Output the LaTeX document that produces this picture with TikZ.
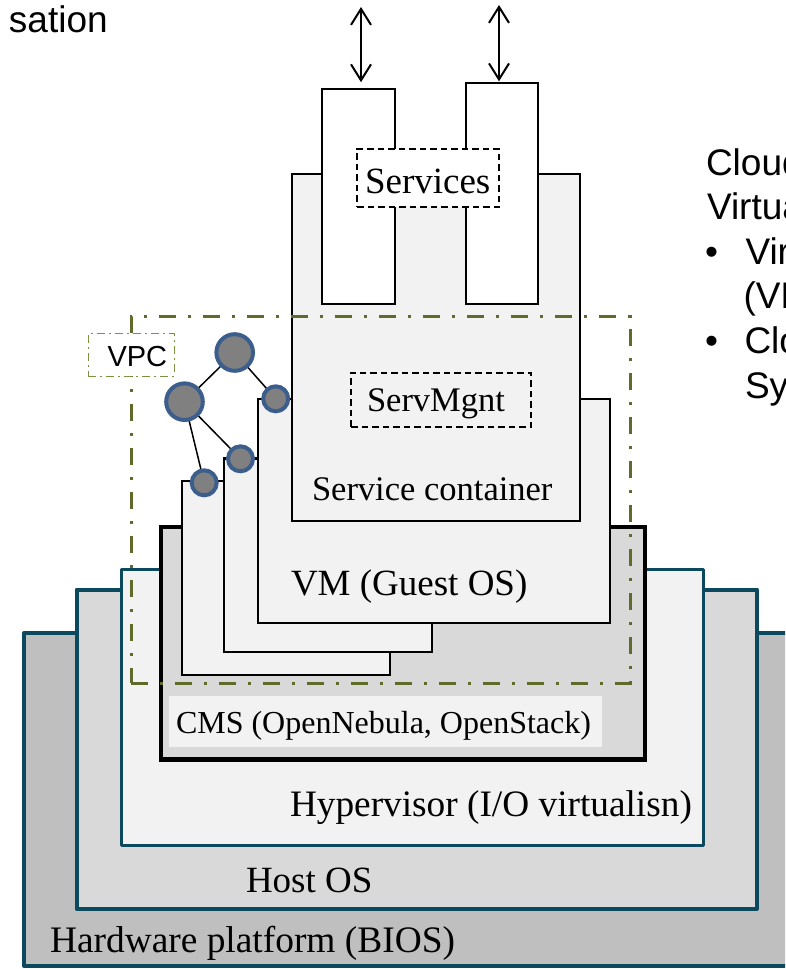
\documentclass[tikz,border=0pt]{standalone}
\usepackage{fontspec}
\setmainfont{Liberation Serif}
\newfontfamily\arialfont{Liberation Sans}
\usetikzlibrary{arrows.meta}
\definecolor{tealb}{HTML}{0B4A5E}
\definecolor{olivel}{HTML}{5F6B2B}
\definecolor{olivelab}{HTML}{7A9340}
\definecolor{nodeblue}{HTML}{3B5E8C}
\definecolor{nodegray}{HTML}{808080}
\definecolor{gA}{HTML}{BFBFBF}
\definecolor{gB}{HTML}{D9D9D9}
\definecolor{gC}{HTML}{F2F2F2}
\begin{document}
\begin{tikzpicture}[x=1pt,y=-1pt,
  box/.style={rectangle, inner sep=0pt, outer sep=0pt, anchor=north west},
  tealbox/.style={box, draw=tealb, line width=4pt, line join=round},
  blackbox/.style={box, draw=black, line width=2.2pt, fill=gC},
  appbox/.style={box, draw=black, line width=2.2pt, fill=white},
  dashbox/.style={box, draw=black, line width=1.8pt, dash pattern=on 6.5pt off 4pt},
  lbl/.style={inner sep=0pt, outer sep=0pt, anchor=base west},
  serifbig/.style={lbl, font=\fontsize{37}{44}\selectfont},
  serifmid/.style={lbl, font=\fontsize{34.5}{41}\selectfont},
  sansright/.style={lbl, font=\arialfont\fontsize{37}{44}\selectfont},
  netnode/.style={circle, draw=nodeblue, fill=nodegray, line width=4pt, inner sep=0pt, outer sep=0pt},
  bignet/.style={netnode, minimum size=36.6pt},
  smallnet/.style={netnode, minimum size=25pt},
  netedge/.style={draw=black, line width=1.5pt},
  dblarrow/.style={draw=black, line width=2pt, {Straight Barb[length=16pt,width=20pt]}-{Straight Barb[length=16pt,width=20pt]}}
]
\useasboundingbox (0,0) rectangle (785,969);
\clip (0,0) rectangle (785,969);

% platform layers
\node[tealbox, fill=gA, minimum width=776pt, minimum height=333pt] (hw) at (24,633) {};
\node[tealbox, fill=gB, minimum width=680.5pt, minimum height=319pt] (host) at (76.5,589.5) {};
\node[tealbox, fill=gC, line width=3.2pt, minimum width=581.8pt, minimum height=276pt] (hyper) at (121.5,569.5) {};
\node[box, draw=black, fill=gB, line width=4.5pt, minimum width=484pt, minimum height=232.5pt] (cms) at (161,527) {};
\node[box, fill=gC, minimum width=433pt, minimum height=51pt] (cmslab) at (169,696) {};

\node[serifbig, font=\fontsize{37.4}{44}\selectfont] (hwtext) at (50,952) {Hardware platform (BIOS)};
\node[serifbig] (hosttext) at (246,892) {Host OS};
\node[serifbig, font=\fontsize{37.3}{44}\selectfont] (hypertext) at (290,816) {Hypervisor (I/O virtualisn)};
\node[lbl, font=\fontsize{32}{38}\selectfont] (cmstext) at (176,733) {CMS (OpenNebula, OpenStack)};

% VMs
\node[blackbox, minimum width=207.7pt, minimum height=194pt] (vm1) at (182,481) {};
\node[blackbox, minimum width=208pt, minimum height=193.8pt] (vm2) at (224.3,458.5) {};
\node[blackbox, minimum width=352.1pt, minimum height=223.4pt] (vm3) at (257.7,399.3) {};
\node[serifbig] (vmtext) at (291,595) {VM (Guest OS)};

% service container
\node[blackbox, minimum width=287.4pt, minimum height=347pt] (sc) at (292.3,173.7) {};
\node[serifmid] (sctext) at (312,500) {Service container};
\node[dashbox, minimum width=180pt, minimum height=54.4pt] (smg) at (351,372.8) {};
\node[serifmid] (smgtext) at (367,411) {ServMgnt};

% service boxes
\node[appbox, minimum width=72.5pt, minimum height=215.3pt] (app1) at (322.3,88.7) {};
\node[appbox, minimum width=72.6pt, minimum height=220.7pt] (app2) at (465.7,83.3) {};
\node[dashbox, fill=white, minimum width=141.7pt, minimum height=58.6pt] (srv) at (357.3,148.7) {};
\node[serifbig] (srvtext) at (365,193) {Services};

% arrows
\coordinate (a1top) at (361,7);
\coordinate (a2top) at (499,5);
\draw[dblarrow, shorten >=6.5pt] (a1top) -- (a1top |- app1.north);
\draw[dblarrow, shorten >=2pt] (a2top) -- (a2top |- app2.north);

% VPC
\node[box, draw=olivel, line width=3pt, dash pattern=on 17pt off 12pt on 3pt off 12pt, minimum width=499pt, minimum height=366.6pt] (vpc) at (131,316.7) {};
\node[box, draw=olivelab, fill=white, line width=1.4pt, dash pattern=on 8pt off 4pt on 2pt off 4pt, minimum width=86pt, minimum height=42.6pt] (vpclab) at (88.3,333.7) {};
\node[lbl, font=\arialfont\fontsize{29}{34}\selectfont] (vpctext) at (107.5,366) {VPC};

% network
\coordinate (c1) at (234.7,352.5);
\coordinate (c2) at (184.5,401.7);
\coordinate (c3) at (275.7,398.8);
\coordinate (c4) at (240.5,458.8);
\coordinate (c5) at (204.2,482.8);
\draw[netedge] (c1) -- (c2);
\draw[netedge] (c1) -- (c3);
\draw[netedge] (c2) -- (c4);
\draw[netedge] (c2) -- (c5);
\node[bignet] (n1) at (c1) {};
\node[bignet] (n2) at (c2) {};
\node[smallnet] (n3) at (c3) {};
\node[smallnet] (n4) at (c4) {};
\node[smallnet] (n5) at (c5) {};

% texts
\node[lbl, font=\arialfont\fontsize{37}{44}\selectfont] (title) at (9,32) {sation};
\node[sansright] (r1) at (706,175) {Cloud};
\node[sansright] (r2) at (707,219.3) {Virtualisation};
\node[sansright] (b1) at (705,264.3) {•};
\node[sansright] (r3) at (745.5,264.3) {Virtual machines};
\node[sansright] (r4) at (743.5,308.3) {(VMs)};
\node[sansright] (b2) at (705,353.3) {•};
\node[sansright] (r5) at (744.5,353.3) {Cloud Management};
\node[sansright] (r6) at (745,398.3) {System};
\end{tikzpicture}
\end{document}
